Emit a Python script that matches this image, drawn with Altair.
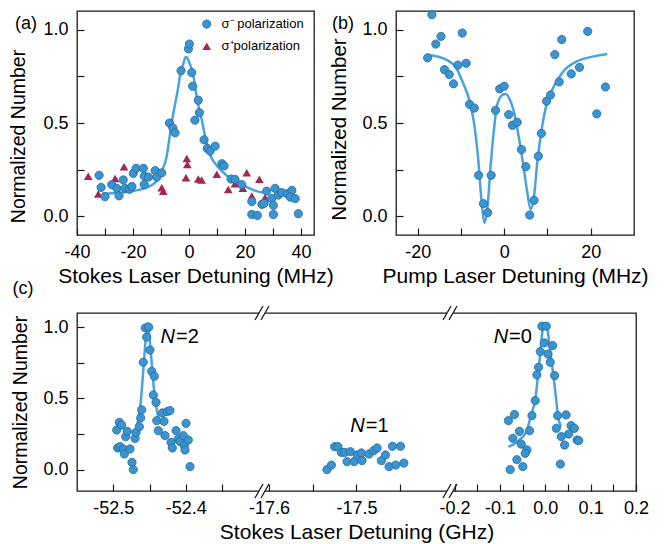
import altair as alt
import pandas as pd

FONT = "Liberation Sans"
BLUE = "#3b93cf"
EDGE = "#1f6c9f"
LINE = "#4aa3e0"
RED = "#a8254f"
INK = "#1a1a1a"

# ---------------- panel (a) ----------------
a_minus_x = [-32.1, -31.4, -30.0, -27.6, -25.8, -25.0, -23.5, -22.9, -21.3, -20.4, -19.9, -18.9,
             -16.3, -16.0, -16.0, -14.5, -12.1, -11.5, -9.75, -7.0, -5.8, -5.0, -2.86, -0.24, 0.1,
             0.96, 1.3, 2.1, 3.3, 3.7, 5.36, 6.5, 7.5, 9.3, 11.7, 12.5, 15.0, 16.4, 18.8, 22.4,
             22.4, 24.4, 26.0, 26.8, 27.7, 29.5, 30.1, 30.1, 30.7, 31.9, 33.1, 35.1, 36.7, 36.1,
             37.9, 39.0]
a_minus_y = [0.22, 0.155, 0.105, 0.17, 0.15, 0.11, 0.195, 0.15, 0.145, 0.16, 0.23, 0.257,
             0.257, 0.215, 0.17, 0.21, 0.245, 0.21, 0.233, 0.50, 0.474, 0.447, 0.78, 0.897, 0.923,
             0.77, 0.697, 0.515, 0.622, 0.555, 0.41, 0.364, 0.35, 0.376, 0.282, 0.27, 0.20, 0.198,
             0.17, 0.079, 0.01, 0.005, 0.064, 0.07, 0.135, 0.096, 0.059, 0.01, 0.15, 0.114, 0.127,
             0.121, 0.139, 0.103, 0.095, 0.014]
a_plus_x = [-36.0, -32.4, -26.4, -23.2, -19.3, -9.75, -9.2, -0.8, -0.6, -1.1, 3.3, 4.5, 9.9,
            14.0, 16.4, 19.2, 20.6, 22.4, 25.1, 27.1]
a_plus_y = [0.215, 0.12, 0.203, 0.266, 0.26, 0.153, 0.135, 0.31, 0.278, 0.207, 0.2, 0.194,
            0.225, 0.144, 0.175, 0.15, 0.233, 0.109, 0.198, 0.1]
a_fit_x = [-31, -26, -20, -16, -13, -11, -9.5, -8, -7, -6, -5, -4, -3, -2, -1.2, -0.5, 0.3,
           1.5, 2.5, 3.5, 4.5, 5.7, 7.5, 10, 12.2, 15, 17, 20, 24, 28]
a_fit_y = [0.122, 0.125, 0.135, 0.15, 0.17, 0.2, 0.25, 0.32, 0.42, 0.52, 0.6, 0.68, 0.77, 0.82,
           0.853, 0.845, 0.815, 0.76, 0.66, 0.58, 0.52, 0.43, 0.33, 0.27, 0.235, 0.2, 0.185,
           0.16, 0.135, 0.125]
legend_labels = ["\u03c3\u207b polarization", "\u03c3\u207apolarization"]

# ---------------- panel (b) ----------------
b_x = [-16.7, -17.7, -15.8, -14.6, -13.8, -12.7, -11.7, -10.7, -9.7, -8.8, -8.0, -6.9, -5.9,
       -4.8, -3.8, -3.0, -2.0, -1.05, 0.0, 1.05, 1.9, 3.0, 4.0, 5.0, 5.9, 6.9, 7.9, 8.6, 9.8,
       10.7, 11.7, 12.7, 13.3, 15.5, 17.4, 19.3, 21.4, 23.4]
b_y = [1.08, 0.849, 0.923, 0.964, 0.786, 0.76, 0.71, 0.81, 0.982, 0.82, 0.60, 0.58, 0.22,
       0.068, 0.02, 0.22, 0.568, 0.683, 0.697, 0.545, 0.488, 0.504, 0.358, 0.266, 0.007, 0.086,
       0.322, 0.444, 0.617, 0.65, 0.866, 0.72, 0.947, 0.763, 0.798, 0.991, 0.549, 0.693]
b_fit_x = [-17.7, -13.4, -11.1, -9.6, -8.0, -6.9, -5.9, -5.3, -4.5, -3.8, -3.1, -2.4, -1.6, -0.3,
           0.3, 1.3, 2.4, 3.4, 4.4, 5.3, 6.1, 6.9, 7.6, 8.6, 9.8, 11.3, 13.7, 16.8, 20.7, 23.8]
b_fit_y = [0.866, 0.84, 0.795, 0.72, 0.617, 0.49, 0.28, 0.1, -0.034, 0.064, 0.28, 0.456, 0.6,
           0.652, 0.655, 0.626, 0.545, 0.42, 0.278, 0.135, 0.037, 0.108, 0.278, 0.456, 0.6,
           0.688, 0.777, 0.83, 0.857, 0.87]

# ---------------- panel (c) ----------------
c_x = [-52.4953, -52.4917, -52.4884, -52.494, -52.4908, -52.4862, -52.4848, -52.4829, -52.4807,
       -52.477, -52.4742, -52.4724, -52.47, -52.4687, -52.4641, -52.4622, -52.4608, -52.4586,
       -52.4559, -52.4539, -52.4512, -52.4494, -52.447, -52.4434, -52.4448, -52.4411, -52.4401,
       -52.4379, -52.4324, -52.4301, -52.4287, -52.4255, -52.4218, -52.4204, -52.4186, -52.4135,
       -52.4103, -52.408, -52.4034, -52.4021, -52.3997, -52.3966, -52.4011, -52.3942,
       -17.5337, -17.5286, -17.5249, -17.5211, -17.5172, -17.5134, -17.5108, -17.5069, -17.5027,
       -17.4989, -17.4943, -17.4936, -17.4856, -17.4802, -17.4764, -17.4714, -17.4668, -17.4627,
       -17.4588, -17.455, -17.4496, -17.4458,
       -0.0073, 0.0022, -0.0022, 0.0162, -0.011, 0.006, 0.011, -0.0148, -0.0184, 0.0206, -0.0221,
       -0.0294, 0.0272, 0.0458, -0.0812, -0.0679, -0.0347, -0.0569, 0.0243, 0.0569, 0.0642,
       0.0516, 0.0354, -0.0715, -0.0531, -0.0405, -0.0442, 0.0427, 0.0701, 0.0737, -0.0626,
       -0.0493, -0.0774, 0.0332]
c_y = [0.278, 0.332, 0.313, 0.152, 0.162, 0.145, 0.11, 0.232, 0.269, 0.145, 0.051, 0.0, 0.22,
       0.262, 0.302, 0.363, 0.42, 0.754, 0.995, 0.93, 1.0, 0.84, 0.69, 0.655, 0.524, 0.473,
       0.344, 0.274, 0.398, 0.339, 0.239, 0.408, 0.415, 0.192, 0.152, 0.274, 0.215, 0.197, 0.239,
       0.169, 0.325, 0.208, 0.138, 0.021,
       0.0, 0.032, 0.161, 0.161, 0.121, 0.121, 0.056, 0.126, 0.056, 0.103, 0.117, 0.063, 0.11,
       0.134, 0.152, 0.063, 0.103, 0.021, 0.164, 0.032, 0.164, 0.046,
       1.007, 1.007, 0.89, 0.871, 0.829, 0.812, 0.754, 0.719, 0.665, 0.661, 0.485, 0.379, 0.379,
       0.384, 0.344, 0.387, 0.274, 0.269, 0.29, 0.309, 0.29, 0.25, 0.232, 0.22, 0.18, 0.138,
       0.115, 0.173, 0.208, 0.204, 0.07, 0.021, 0.0, 0.039]
c_fit2_x = [-52.468, -52.4655, -52.4622, -52.4586, -52.4549, -52.4526, -52.4494, -52.4462,
            -52.4434, -52.4393, -52.436]
c_fit2_y = [0.30, 0.356, 0.47, 0.70, 0.94, 1.03, 0.89, 0.70, 0.54, 0.40, 0.34]
c_fit0_x = [-0.081, -0.055, -0.0405, -0.0317, -0.022, -0.016, -0.011, -0.005, -0.002, 0.004,
            0.011, 0.018, 0.024, 0.028, 0.035]
c_fit0_y = [0.16, 0.215, 0.274, 0.38, 0.496, 0.66, 0.824, 1.0, 1.03, 1.0, 0.824, 0.66, 0.496,
            0.38, 0.30]
c_peak_names = ["=2", "=1", "=0"]
c_peak_x = [-52.4149, -17.4905, -0.0819]
c_peak_y = [0.93, 0.304, 0.93]
c_ticks = [-52.5, -52.45, -52.4, -52.35, -17.6, -17.55, -17.5, -17.45,
           -0.2, -0.15, -0.1, -0.05, 0.0, 0.05, 0.1, 0.15, 0.2]
c_breaks = [-52.295, -17.393]

# ---------------- helpers ----------------
MINUS = "replace(format(datum.value, '.1f'), '\u2212', '-')"


def y_axis(title_size, title_pad, title_y=None):
    kw = dict(title="Normalized Number", values=[0, 0.25, 0.5, 0.75, 1.0],
              labelExpr="round(datum.value*2) == datum.value*2 ? format(datum.value, '.1f') : ''",
              offset=-7, tickSize=7, domain=False, grid=False, labelPadding=9,
              titlePadding=title_pad, labelOverlap=False, labelFlush=False,
              titleFontSize=title_size)
    if title_y is not None:
        kw["titleY"] = title_y
    return alt.Axis(**kw)


def x_axis(title, values, expr):
    return alt.Axis(title=title, values=values, labelExpr=expr, offset=-7, tickSize=7,
                    domain=False, grid=False, labelPadding=8, titlePadding=4,
                    labelOverlap=False, labelFlush=False, titleFontSize=21)


def pts(xs, ys, **extra):
    d = {"x": xs, "y": ys}
    d.update(extra)
    return pd.DataFrame(d)


dot_style = dict(shape="circle", filled=True, fill=BLUE, stroke=EDGE, strokeWidth=0.8,
                 size=68, opacity=1)
tri_style = dict(shape="triangle-up", filled=True, fill=RED, size=75, opacity=1, strokeWidth=0)
INT_LABEL = "datum.value % 20 == 0 ? replace(format(datum.value, 'd'), '\u2212', '-') : ''"

# ---------------- chart (a) ----------------
xa = alt.X("x:Q", scale=alt.Scale(domain=[-40, 44.6], nice=False, zero=False),
           axis=x_axis("Stokes Laser Detuning (MHz)", [-40, -30, -20, -10, 0, 10, 20, 30, 40],
                       INT_LABEL))
ya = alt.Y("y:Q", scale=alt.Scale(domain=[-0.1, 1.1], nice=False, zero=False),
           axis=y_axis(19.5, 14, 125))

a_tri = alt.Chart(pts(a_plus_x, a_plus_y)).mark_point(**tri_style).encode(x=xa, y=ya)
a_line = alt.Chart(pts(a_fit_x, a_fit_y)).mark_line(
    color=LINE, strokeWidth=2.5, interpolate="monotone").encode(x=xa, y=ya)
a_dots = alt.Chart(pts(a_minus_x, a_minus_y)).mark_point(**dot_style).encode(x=xa, y=ya)
leg_c = alt.Chart(pts([6.3], [1.03])).mark_point(**dot_style).encode(x=xa, y=ya)
leg_t = alt.Chart(pts([6.3], [0.911])).mark_point(**tri_style).encode(x=xa, y=ya)
leg_txt = alt.Chart(pts([11.6, 11.6], [1.03, 0.911], t=legend_labels)).mark_text(
    align="left", baseline="middle", fontSize=13, font=FONT, color="black").encode(
    x=xa, y=ya, text="t:N")
a_lab = alt.Chart(pts([-40], [1.1], t=["(a)"])).mark_text(
    align="center", baseline="middle", fontSize=18, font=FONT, color="black",
    xOffset=-51, yOffset=13).encode(x=xa, y=ya, text="t:N")
chart_a = alt.layer(a_tri, a_line, a_dots, leg_c, leg_t, leg_txt, a_lab).properties(
    width=237, height=224)

# ---------------- chart (b) ----------------
xb = alt.X("x:Q", scale=alt.Scale(domain=[-25, 30], nice=False, zero=False),
           axis=x_axis("Pump Laser Detuning (MHz)", [-20, -10, 0, 10, 20], INT_LABEL))
yb = alt.Y("y:Q", scale=alt.Scale(domain=[-0.1, 1.1], nice=False, zero=False),
           axis=y_axis(20.5, 12, 118))
b_line = alt.Chart(pts(b_fit_x, b_fit_y)).mark_line(
    color=LINE, strokeWidth=2.5, interpolate="monotone").encode(x=xb, y=yb)
b_dots = alt.Chart(pts(b_x, b_y)).mark_point(**dot_style).encode(x=xb, y=yb)
b_lab = alt.Chart(pts([-25], [1.1], t=["(b)"])).mark_text(
    align="center", baseline="middle", fontSize=18, font=FONT, color="black",
    xOffset=-53, yOffset=13).encode(x=xb, y=yb, text="t:N")
chart_b = alt.layer(b_line, b_dots, b_lab).properties(width=238, height=224)

# ---------------- chart (c) ----------------
xc = alt.X("x:Q",
           scale=alt.Scale(domain=[-52.550, -52.295, -17.608, -17.393, -0.210, 0.2],
                           range=[0, 185, 185, 373, 373, 559], nice=False, zero=False),
           axis=x_axis("Stokes Laser Detuning (GHz)", c_ticks,
                       "abs(datum.value*10 - round(datum.value*10)) < 0.001 ? " + MINUS + " : ''"))
yc = alt.Y("y:Q", scale=alt.Scale(domain=[-0.15, 1.1], nice=False, zero=False),
           axis=y_axis(19.5, 12))

fit_c = pd.concat([pts(c_fit2_x, c_fit2_y, g="N2"), pts(c_fit0_x, c_fit0_y, g="N0")])
c_line = alt.Chart(fit_c).mark_line(color=LINE, strokeWidth=2.5, interpolate="monotone").encode(
    x=xc, y=yc, detail="g:N")
c_dots = alt.Chart(pts(c_x, c_y)).mark_point(**dot_style).encode(x=xc, y=yc)
c_N = alt.Chart(pts(c_peak_x, c_peak_y, t=["N"] * 3)).mark_text(
    align="right", baseline="middle", fontSize=20, font=FONT, fontStyle="italic",
    color="black").encode(x=xc, y=yc, text="t:N")
c_eq = alt.Chart(pts(c_peak_x, c_peak_y, t=c_peak_names)).mark_text(
    align="left", baseline="middle", fontSize=20, font=FONT, color="black", dx=1).encode(
    x=xc, y=yc, text="t:N")
brk = pd.DataFrame({"x": c_breaks * 2, "y": [1.1, 1.1, -0.15, -0.15]})
c_gap = alt.Chart(brk).mark_rect(color="white", opacity=1, xOffset=-3, x2Offset=3,
                                 yOffset=-3, y2Offset=3).encode(
    x=xc, x2=alt.X2("x"), y=yc, y2=alt.Y2("y"))
c_sl1 = alt.Chart(brk).mark_rule(color=INK, strokeWidth=1.3, xOffset=-7, x2Offset=1,
                                 yOffset=7, y2Offset=-7).encode(
    x=xc, x2=alt.X2("x"), y=yc, y2=alt.Y2("y"))
c_sl2 = alt.Chart(brk).mark_rule(color=INK, strokeWidth=1.3, xOffset=-1, x2Offset=7,
                                 yOffset=7, y2Offset=-7).encode(
    x=xc, x2=alt.X2("x"), y=yc, y2=alt.Y2("y"))
c_lab = alt.Chart(pts([-52.55], [1.1], t=["(c)"])).mark_text(
    align="center", baseline="middle", fontSize=18, font=FONT, color="black",
    xOffset=-54, yOffset=-24).encode(x=xc, y=yc, text="t:N")
chart_c = alt.layer(c_line, c_dots, c_N, c_eq, c_gap, c_sl1, c_sl2, c_lab).properties(
    width=559, height=178)

top = alt.hconcat(chart_a, chart_b, spacing=82, bounds="flush")
chart = alt.vconcat(top, chart_c, spacing=-8).properties(
    padding={"left": 0, "top": 0, "right": 0, "bottom": 0})
chart = chart.configure_view(stroke=INK, strokeWidth=1.3).configure_axis(
    labelFont=FONT, titleFont=FONT, labelFontSize=18, labelColor="black", titleColor="black",
    tickColor=INK, tickWidth=1.2, titleFontWeight="normal")

chart.save("out.html", embed_options={"renderer": "svg", "actions": False})
